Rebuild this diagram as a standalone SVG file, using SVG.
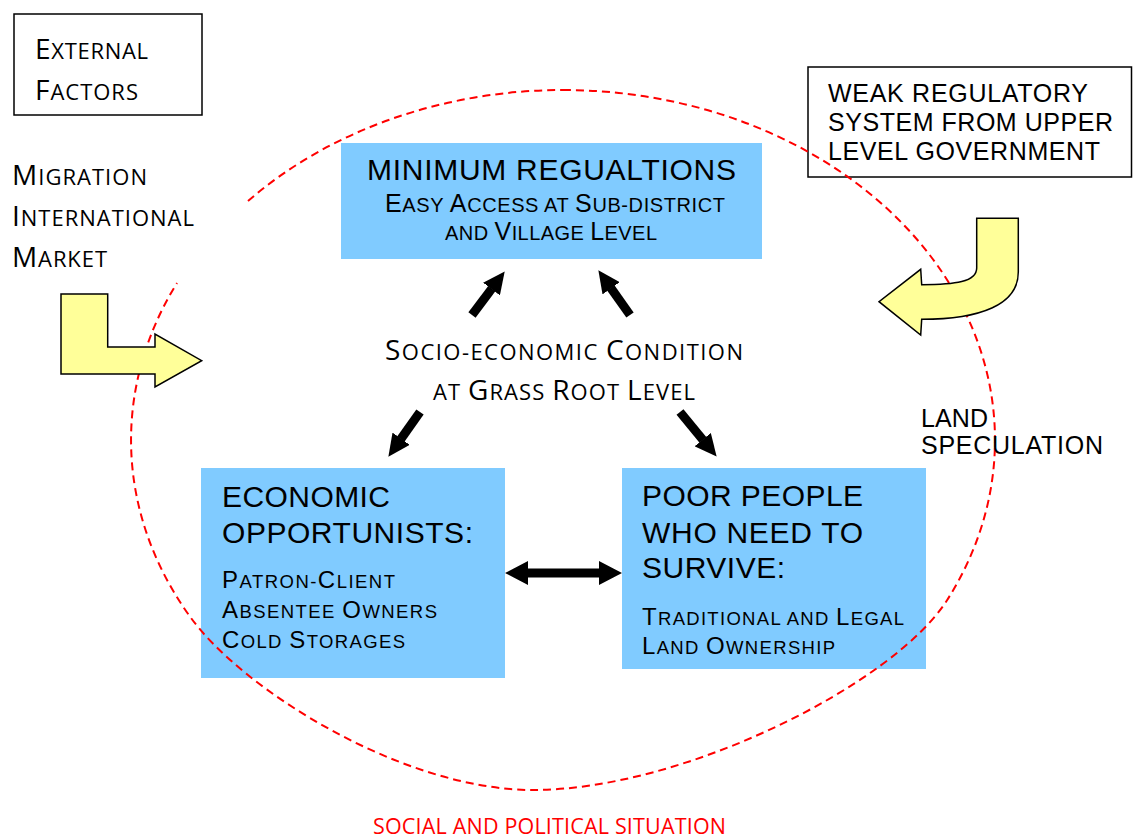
<svg xmlns="http://www.w3.org/2000/svg" width="1133" height="838" viewBox="0 0 1133 838">
<style>
.ot{font-family:"Open Sans","DejaVu Sans",sans-serif;fill:#000}
.ar{font-family:"Liberation Sans",Arial,sans-serif;fill:#000}
.box{fill:#80CBFF}
.frame{fill:#fff;stroke:#000;stroke-width:1.5}
.yel{fill:#FFFF99;stroke:#000;stroke-width:1.5;stroke-linejoin:miter}
.shaft{stroke:#000;stroke-width:9;fill:none}
.ring{fill:none;stroke:#FF0000;stroke-width:2;stroke-dasharray:8 5}
.red{fill:#FF0000}
</style>
<defs>
<marker id="ah" markerUnits="userSpaceOnUse" markerWidth="22" markerHeight="21" viewBox="0 0 22 21" refX="0.5" refY="10.5" orient="auto"><path d="M0,0 L22,10.5 L0,21 Z" fill="#000"/></marker>
</defs>
<rect width="1133" height="838" fill="#fff"/>

<g id="external-factors">
<rect class="frame" x="14" y="14" width="188" height="101"/>
<text class="ot" x="35" y="59" font-size="22" textLength="113" lengthAdjust="spacing"><tspan font-size="28">E</tspan>XTERNAL</text>
<text class="ot" x="35" y="100" font-size="22" textLength="103" lengthAdjust="spacing"><tspan font-size="28">F</tspan>ACTORS</text>
</g>

<g id="weak-regulatory">
<rect class="frame" x="808" y="67" width="323.5" height="110"/>
<text class="ar" x="828" y="102" font-size="25" textLength="260" lengthAdjust="spacing">WEAK REGULATORY</text>
<text class="ar" x="828" y="131" font-size="25" textLength="285" lengthAdjust="spacing">SYSTEM FROM UPPER</text>
<text class="ar" x="828" y="160" font-size="25" textLength="272" lengthAdjust="spacing">LEVEL GOVERNMENT</text>
</g>

<g id="minimum-regulations">
<rect class="box" x="341" y="143" width="421" height="116"/>
<text class="ar" x="367" y="180" font-size="30" textLength="369" lengthAdjust="spacing">MINIMUM REGUALTIONS</text>
<text class="ar" x="385" y="212" font-size="20" textLength="340" lengthAdjust="spacing"><tspan font-size="25">E</tspan>ASY <tspan font-size="25">A</tspan>CCESS AT <tspan font-size="25">S</tspan>UB-DISTRICT</text>
<text class="ar" x="445" y="240" font-size="20" textLength="212" lengthAdjust="spacing">AND <tspan font-size="25">V</tspan>ILLAGE <tspan font-size="25">L</tspan>EVEL</text>
</g>

<g id="economic-opportunists">
<rect class="box" x="201" y="468" width="304" height="210"/>
<text class="ar" x="222" y="507" font-size="30" textLength="168" lengthAdjust="spacing">ECONOMIC</text>
<text class="ar" x="222" y="543" font-size="30" textLength="251" lengthAdjust="spacing">OPPORTUNISTS:</text>
<text class="ar" x="222" y="588" font-size="18.5" textLength="173" lengthAdjust="spacing"><tspan font-size="24">P</tspan>ATRON-<tspan font-size="24">C</tspan>LIENT</text>
<text class="ar" x="222" y="618" font-size="18.5" textLength="215" lengthAdjust="spacing"><tspan font-size="24">A</tspan>BSENTEE <tspan font-size="24">O</tspan>WNERS</text>
<text class="ar" x="222" y="648" font-size="18.5" textLength="183" lengthAdjust="spacing"><tspan font-size="24">C</tspan>OLD <tspan font-size="24">S</tspan>TORAGES</text>
</g>

<g id="poor-people">
<rect class="box" x="622" y="468" width="304" height="201"/>
<text class="ar" x="642" y="506" font-size="30" textLength="221" lengthAdjust="spacing">POOR PEOPLE</text>
<text class="ar" x="642" y="543" font-size="30" textLength="221" lengthAdjust="spacing">WHO NEED TO</text>
<text class="ar" x="642" y="578" font-size="30" textLength="143" lengthAdjust="spacing">SURVIVE:</text>
<text class="ar" x="642" y="625" font-size="18.5" textLength="262" lengthAdjust="spacing"><tspan font-size="24">T</tspan>RADITIONAL AND <tspan font-size="24">L</tspan>EGAL</text>
<text class="ar" x="642" y="654" font-size="18.5" textLength="193" lengthAdjust="spacing"><tspan font-size="24">L</tspan>AND <tspan font-size="24">O</tspan>WNERSHIP</text>
</g>

<g id="social-political-boundary">
<path class="ring" d="M563,90 A432,350 0 0 1 947.2,600 C893.4,684.4 683,790 533,790 C403,790 242.7,689.9 190.3,617 A432,350 0 0 1 177,283 M248,201 A432,350 0 0 1 563,90"/>
</g>

<g id="migration-market">
<text class="ot" x="12" y="185" font-size="22" textLength="135" lengthAdjust="spacing"><tspan font-size="28">M</tspan>IGRATION</text>
<text class="ot" x="12" y="226" font-size="22" textLength="182" lengthAdjust="spacing"><tspan font-size="28">I</tspan>NTERNATIONAL</text>
<text class="ot" x="12" y="267" font-size="22" textLength="95" lengthAdjust="spacing"><tspan font-size="28">M</tspan>ARKET</text>
</g>

<g id="external-arrow">
<polygon class="yel" points="61,294 107.7,294 107.7,347 155,347 155,334 201.7,360.7 155,387 155,374 61,374"/>
</g>

<g id="regulatory-arrow">
<path class="yel" d="M976.7,218.3 L1018.3,218.3 L1018.3,272 C1018.3,305 980,319.3 921.7,319.3 L920.7,335 L879,301.7 L920.7,269.3 L921.7,284.7 C955,284.7 976.7,282 976.7,268 Z"/>
</g>

<g id="socio-economic">
<text class="ot" x="385" y="360" font-size="22" textLength="358" lengthAdjust="spacing"><tspan font-size="28">S</tspan>OCIO-ECONOMIC <tspan font-size="28">C</tspan>ONDITION</text>
<text class="ot" x="433" y="400" font-size="22" textLength="262" lengthAdjust="spacing">AT <tspan font-size="28">G</tspan>RASS <tspan font-size="28">R</tspan>OOT <tspan font-size="28">L</tspan>EVEL</text>
</g>

<g id="land-speculation">
<text class="ar" x="921" y="427" font-size="25" textLength="67" lengthAdjust="spacing">LAND</text>
<text class="ar" x="921" y="454" font-size="25" textLength="182" lengthAdjust="spacing">SPECULATION</text>
</g>

<g id="social-political-label">
<text class="ot red" x="373" y="834" font-size="21.5" textLength="353" lengthAdjust="spacing">SOCIAL AND POLITICAL SITUATION</text>
</g>

<g id="connectors">
<path class="shaft" d="M472,315 L491.8,288.6" marker-end="url(#ah)"/>
<path class="shaft" d="M630,315 L610.8,287.9" marker-end="url(#ah)"/>
<path class="shaft" d="M420,412 L400.8,439.1" marker-end="url(#ah)"/>
<path class="shaft" d="M680,412 L703,440" marker-end="url(#ah)"/>
<polygon fill="#000" points="505,573 528,561 528,568.5 599,568.5 599,561 622,573 599,585 599,577.5 528,577.5 528,585"/>
</g>
</svg>
